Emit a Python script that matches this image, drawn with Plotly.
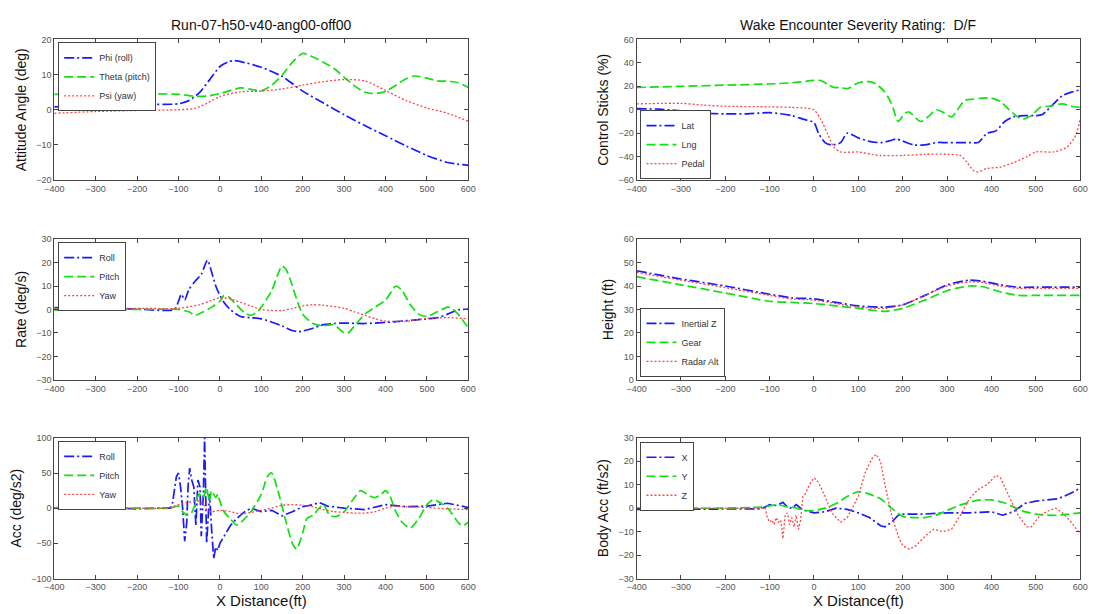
import plotly.graph_objects as go

# ---------------- data ----------------
x_ticks = [-400, -300, -200, -100, 0, 100, 200, 300, 400, 500, 600]

# Panel 1: Attitude angle (deg)
phi_x = [-400,-300,-200,-100,-75,-50,-25,0,20,35,50,100,150,200,250,300,350,400,450,500,550,600]
phi_y = [0.8,1.2,1.5,1.7,2.6,4.8,8.5,12.3,13.6,14.0,13.7,12.1,9.5,5.3,1.9,-1.4,-4.5,-7.4,-10.3,-13.0,-15.0,-15.8]
theta_x = [-400,-300,-200,-100,-60,-30,0,50,75,100,125,150,175,200,225,250,275,300,325,350,375,400,425,450,470,500,525,550,575,600]
theta_y = [4.4,4.5,4.5,4.4,3.8,3.9,4.6,6.2,5.8,5.4,7.0,9.8,13.5,16.0,15.0,13.5,11.8,9.3,6.8,5.0,4.6,5.2,7.0,8.8,9.6,9.0,8.2,8.1,7.7,6.3]
psi_x = [-400,-300,-200,-100,-60,-30,0,50,100,150,200,250,300,350,400,450,500,550,600]
psi_y = [-1.0,-0.5,-0.2,0.0,0.4,1.9,3.8,5.1,5.3,5.9,7.0,8.0,8.6,8.2,5.5,2.6,0.5,-1.0,-3.3]

# Panel 2: Control sticks (%)
lat_x = [-400,-350,-300,-250,-200,-150,-100,-50,-25,0,10,25,40,60,75,100,125,150,175,185,225,250,275,300,350,370,390,410,430,450,475,500,515,540,560,580,600]
lat_y = [1,0.5,-1,-3,-3.5,-3.5,-2.5,-5,-8,-11,-20,-28,-30,-28,-20,-24,-27,-28,-26,-25,-30,-30,-28,-28,-28,-28,-20,-18,-10,-6,-5,-5,-4,5,12,15,17]
lng_x = [-400,-300,-200,-100,-50,0,15,30,45,60,75,100,125,140,160,175,190,205,215,240,260,275,290,310,320,340,360,380,400,420,440,455,470,490,510,530,560,580,600]
lng_y = [19,20,21,22,23,25,25,22,19,19,18,23,24,22,15,5,-10,-3,-2,-10,-5,0,-2,-6,-2,8,9,10,10,7,0,-5,-8,-5,2,3,5,3,2]
pedal_x = [-400,-300,-250,-200,-100,-50,-20,0,15,30,45,60,100,130,150,200,250,300,330,345,360,370,390,420,450,480,500,540,570,590,600]
pedal_y = [5,5.5,4,3,2.5,2,1.5,0,-8,-20,-32,-36,-36,-38,-39,-39,-38,-38,-39,-45,-52,-53,-50,-49,-45,-40,-36,-36,-32,-22,-8]

# Panel 3: Rate (deg/s)
rroll_x = [-400,-300,-200,-110,-100,-93,-85,-75,-60,-45,-30,-20,-10,0,10,25,50,75,100,150,175,190,200,225,250,275,300,350,400,450,500,525,550,575,600]
rroll_y = [0.8,0.5,0.2,0.0,3.5,6.5,4.0,8.5,12.0,15.0,21.0,16.0,10.0,6.0,3.0,0.0,-3.0,-3.5,-4.0,-7.0,-9.0,-9.5,-9.2,-8.0,-6.5,-6.0,-5.8,-6.0,-5.5,-4.8,-4.0,-3.5,-2.0,-0.2,0.2]
rpitch_x = [-400,-300,-200,-100,-75,-60,-40,-20,0,10,20,40,60,75,90,100,125,140,150,160,175,190,200,225,250,275,300,310,325,350,375,400,425,440,460,480,500,525,550,560,575,600]
rpitch_y = [-0.3,0.0,0.0,0.0,-1.0,-2.5,-1.0,1.0,3.5,6.0,5.5,2.0,-1.5,-2.5,-1.0,1.0,8.0,15.0,18.5,17.0,10.0,2.0,-2.0,-6.0,-7.0,-6.5,-10.0,-10.0,-7.0,-2.0,1.0,4.0,10.0,8.0,2.0,-2.0,-3.0,-1.0,1.0,0.5,-2.0,-8.0]
ryaw_x = [-400,-300,-200,-100,-50,-25,0,25,50,75,100,150,175,200,225,250,300,325,350,375,400,450,500,550,600]
ryaw_y = [0.5,0.5,0.5,0.5,2.0,3.5,5.0,4.5,3.0,1.5,0.0,-0.5,0.5,1.5,2.0,1.8,0.5,-1.0,-2.5,-4.0,-5.0,-5.0,-3.8,-3.5,-4.0]

# Panel 4: Height (ft)
h_x = [-400,-300,-200,-100,-50,0,50,100,160,200,250,300,350,380,420,460,500,600]
inz_y = [46.5,43,40,36.5,35,34.5,33,31.5,31,32,36,40.5,42.5,42,40.5,39.5,39.5,39.5]
gear_y = [44,40.5,37,33.5,33,32.5,31.5,30.5,29.2,30.5,34,38,40,39.7,37.5,36,36,36]
radar_y = [45.8,42.5,39.3,36,34.5,34,32.5,31,30.5,32,36,40,41.8,41.5,40,39,39,39]

# Panel 5: Acc (deg/s2)
aroll_x = [-400,-350,-300,-250,-200,-150,-120,-115,-105,-100,-95,-90,-85,-80,-77,-73,-68,-63,-58,-53,-48,-45,-40,-37,-35,-32,-28,-25,-20,-15,-10,-5,0,10,25,40,60,75,100,125,150,175,200,225,240,260,300,350,400,450,500,550,600]
aroll_y = [0,-1,-1,0,-1,0,0,5,45,50,30,0,-47,-20,30,57,40,30,-25,40,30,-40,20,100,50,-50,-10,20,-30,-72,-55,-60,-50,-40,-25,-15,-5,0,-5,-3,-11,-5,2,5,8,3,0,-2,5,2,3,7,1]
apitch_x = [-400,-380,-350,-300,-250,-200,-150,-120,-100,-90,-80,-70,-60,-50,-40,-33,-25,-20,-10,-5,0,10,25,40,60,75,100,115,125,140,160,175,185,200,210,225,240,250,265,280,300,325,340,360,375,390,400,410,425,440,460,480,500,515,525,550,575,585,600]
apitch_y = [0,2,0,-1,0,0,0,0,3,-5,-10,-8,5,20,15,30,10,25,15,20,10,-5,-15,-24,-15,-5,20,45,50,25,-20,-50,-58,-35,-15,-10,0,5,-10,-12,-5,15,25,18,15,20,25,18,-5,-20,-28,-15,5,12,10,0,-20,-25,-20]
ayaw_x = [-400,-300,-200,-120,-110,-80,-50,-40,-30,-20,0,25,50,75,100,125,150,175,200,225,250,275,300,325,350,375,400,425,450,500,550,600]
ayaw_y = [0,0,0,0,3,8,10,5,-3,-5,-3,-5,-8,-6,-3,0,4,5,4,2,-2,-5,-6,-7,-7,-5,0,3,2,1,-1,-2]

# Panel 6: Body Acc (ft/s2)
bx_x = [-400,-300,-200,-120,-110,-100,-90,-80,-70,-60,-50,-40,-30,-20,0,25,50,75,100,125,150,160,175,190,200,250,300,350,400,425,450,475,500,525,550,575,600]
bx_y = [-0.5,-0.5,-0.5,-0.3,0.5,1.5,1,1.5,2.5,0.5,0,1.5,0,-1,-2,-1.5,0,-0.5,-2,-4,-7.5,-8,-6,-3,-2.5,-2.5,-2,-2,-1.5,-3,-1.5,2,3,3.5,4,6,8.5]
by_x = [-400,-300,-200,-120,-100,-80,-60,-50,-40,-20,0,25,50,75,100,125,150,175,200,225,250,275,300,325,350,375,400,425,450,475,500,525,550,575,600]
by_y = [0,0,0,0.5,1,1.5,0.5,0.5,0,-1,-1,0,2,5,7,6,4,0,-3.5,-4,-4,-3,-1,1,2.5,3.5,3.5,2.5,0.5,-1.5,-2.5,-3,-3,-2.5,-2]
bz_x = [-400,-300,-200,-110,-105,-100,-95,-90,-85,-80,-75,-70,-65,-60,-55,-50,-45,-40,-35,-30,-25,-20,-10,0,10,25,40,60,75,100,115,130,140,150,160,175,190,200,215,230,250,270,290,310,330,350,370,390,410,420,440,460,480,490,510,530,545,560,580,600]
bz_y = [0,0,0,0,-4,-6,-5,-7,-4,-6,-5,-13,-3,-2,-7,-4,-8,-3,-9,-5,5,6,10,13,11,5,-2,-6,-4,5,15,21,23,20,10,-3,-12,-16,-17.5,-16,-12,-9,-10,-9,-3,4,8,10,14,13,5,-3,-8,-8,-3,-1,0,-2,-6,-11]

# ---------------- styling ----------------
BLUE = "#1a1aff"
GREEN = "#11e011"
RED = "#ff4444"
DASHDOT = "10px,3px,2px,3px"
DASH = "9px,4px"
DOT = "2px,2px"
FONT = "Liberation Sans, Arial, sans-serif"
W, H = 1097, 614

def px_x(p):
    return p / W

def px_y(p):
    return 1 - p / H

left_dom = [px_x(45), px_x(466)]
right_dom = [px_x(637), px_x(1088)]
rows = [[px_y(178), px_y(35)], [px_y(381), px_y(238)], [px_y(583), px_y(440)]]

fig = go.Figure()

def add(x, y, name, color, dash, ax, legend, shape="spline", width=1.7):
    line = dict(color=color, dash=dash, width=width, shape=shape)
    if shape == "spline":
        line["smoothing"] = 0.7
    fig.add_trace(go.Scatter(
        x=x, y=y, name=name, mode="lines", line=line,
        xaxis="x" + ax, yaxis="y" + ax, legend=legend,
    ))

# panel 1 (row1 left)
add(phi_x, phi_y, "Phi (roll)", BLUE, DASHDOT, "", "legend")
add(theta_x, theta_y, "Theta (pitch)", GREEN, DASH, "", "legend")
add(psi_x, psi_y, "Psi (yaw)", RED, DOT, "", "legend", width=1.3)
# panel 2 (row1 right)
add(lat_x, lat_y, "Lat", BLUE, DASHDOT, "2", "legend2")
add(lng_x, lng_y, "Lng", GREEN, DASH, "2", "legend2")
add(pedal_x, pedal_y, "Pedal", RED, DOT, "2", "legend2", width=1.3)
# panel 3 (row2 left)
add(rroll_x, rroll_y, "Roll", BLUE, DASHDOT, "3", "legend3")
add(rpitch_x, rpitch_y, "Pitch", GREEN, DASH, "3", "legend3")
add(ryaw_x, ryaw_y, "Yaw", RED, DOT, "3", "legend3", width=1.3)
# panel 4 (row2 right)
add(h_x, inz_y, "Inertial Z", BLUE, DASHDOT, "4", "legend4")
add(h_x, gear_y, "Gear", GREEN, DASH, "4", "legend4")
add(h_x, radar_y, "Radar Alt", RED, DOT, "4", "legend4", width=1.3)
# panel 5 (row3 left)
add(aroll_x, aroll_y, "Roll", BLUE, DASHDOT, "5", "legend5", shape="linear")
add(apitch_x, apitch_y, "Pitch", GREEN, DASH, "5", "legend5")
add(ayaw_x, ayaw_y, "Yaw", RED, DOT, "5", "legend5", width=1.3)
# panel 6 (row3 right)
add(bx_x, bx_y, "X", BLUE, DASHDOT, "6", "legend6", shape="linear")
add(by_x, by_y, "Y", GREEN, DASH, "6", "legend6")
add(bz_x, bz_y, "Z", RED, DOT, "6", "legend6", shape="linear", width=1.3)

axis_common = dict(
    showline=True, linecolor="#444", linewidth=1, mirror="allticks",
    ticks="inside", ticklen=4, tickcolor="#444", showgrid=False, zeroline=False,
    tickfont=dict(family=FONT, size=9, color="#555"),
)

panels = [
    ("", left_dom, rows[0], [-20, 20], 10, "Attitude Angle (deg)", False),
    ("2", right_dom, rows[0], [-60, 60], 20, "Control Sticks (%)", False),
    ("3", left_dom, rows[1], [-30, 30], 10, "Rate (deg/s)", False),
    ("4", right_dom, rows[1], [0, 60], 10, "Height (ft)", False),
    ("5", left_dom, rows[2], [-100, 100], 50, "Acc (deg/s2)", True),
    ("6", right_dom, rows[2], [-30, 30], 10, "Body Acc (ft/s2)", True),
]

layout = dict(
    width=W, height=H, autosize=False,
    margin=dict(l=0, r=0, t=0, b=0),
    paper_bgcolor="white", plot_bgcolor="white",
    font=dict(family=FONT, color="#111"),
)
for ax, xd, yd, yr, dt, ytitle, xt in panels:
    xa = dict(axis_common, domain=xd, range=[-400, 600], tickvals=x_ticks,
              anchor="y" + ax)
    if xt:
        xa["title"] = dict(text="X Distance(ft)", font=dict(family=FONT, size=15, color="#111"), standoff=4)
    ya = dict(axis_common, domain=yd, range=yr, dtick=dt, tick0=0, anchor="x" + ax,
              title=dict(text=ytitle, font=dict(family=FONT, size=14, color="#111"), standoff=6))
    layout["xaxis" + ax] = xa
    layout["yaxis" + ax] = ya

leg_common = dict(
    bgcolor="white", bordercolor="#444", borderwidth=1,
    font=dict(family=FONT, size=9, color="#333"),
    xanchor="left", itemwidth=30, tracegroupgap=0,
)
layout["legend"] = dict(leg_common, x=px_x(49), y=px_y(38), yanchor="top")
layout["legend2"] = dict(leg_common, x=px_x(641), y=px_y(177), yanchor="bottom")
layout["legend3"] = dict(leg_common, x=px_x(49), y=px_y(241), yanchor="top")
layout["legend4"] = dict(leg_common, x=px_x(641), y=px_y(378), yanchor="bottom")
layout["legend5"] = dict(leg_common, x=px_x(49), y=px_y(443), yanchor="top")
layout["legend6"] = dict(leg_common, x=px_x(641), y=px_y(444), yanchor="top")

layout["annotations"] = [
    dict(text="Run-07-h50-v40-ang00-off00", x=(left_dom[0] + left_dom[1]) / 2, y=px_y(20),
         xanchor="center", yanchor="middle",
         xref="paper", yref="paper", showarrow=False, font=dict(family=FONT, size=14, color="#111")),
    dict(text="Wake Encounter Severity Rating:&nbsp; D/F", x=(right_dom[0] + right_dom[1]) / 2, y=px_y(20),
         xanchor="center", yanchor="middle",
         xref="paper", yref="paper", showarrow=False, font=dict(family=FONT, size=14, color="#111")),
]

fig.update_layout(**layout)
fig.write_html("out.html")
